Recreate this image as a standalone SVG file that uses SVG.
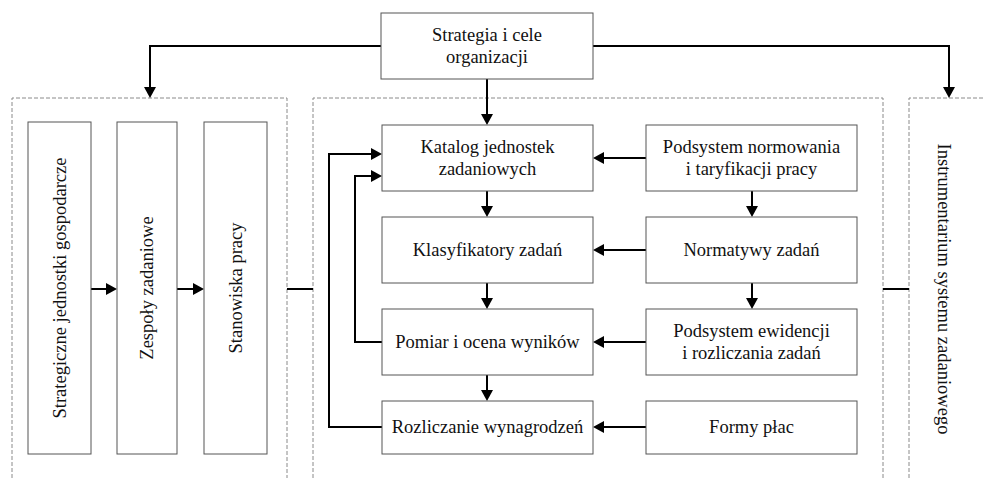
<svg xmlns="http://www.w3.org/2000/svg" width="983" height="478" viewBox="0 0 983 478">
<style>
  .box { fill: #fff; stroke: #555; stroke-width: 1; }
  .panel { fill: none; stroke: #8a8a8a; stroke-width: 1; stroke-dasharray: 4 2; }
  text { font-family: 'Liberation Serif', 'DejaVu Serif', serif; font-size: 18.5px; fill: #111; text-anchor: middle; }
  .c { fill: none; stroke: #000; stroke-width: 2; }
  .a { marker-end: url(#arr); }
</style>
<defs>
  <marker id="arr" markerUnits="userSpaceOnUse" markerWidth="12" markerHeight="12" refX="3" refY="6" orient="auto">
    <path d="M0,0 L11,6 L0,12 z" fill="#000"/>
  </marker>
</defs>
<rect width="983" height="478" fill="#fff"/>

<g id="panels">
  <path class="panel" d="M12,478 V98 H287 V478"/>
  <path class="panel" d="M313,478 V98 H883 V478"/>
  <path class="panel" d="M909,478 V98 H983"/>
</g>

<g id="connectors">
  <path class="c a" d="M381,46 H150 V90"/>
  <path class="c a" d="M593,46 H949 V90"/>
  <path class="c a" d="M487,79 V117"/>
  <path class="c a" d="M91,289 H109"/>
  <path class="c a" d="M177,289 H196"/>
  <path class="c" d="M287,289 H313"/>
  <path class="c" d="M883,289 H909"/>
  <path class="c a" d="M487,191 V209"/>
  <path class="c a" d="M487,283 V301"/>
  <path class="c a" d="M487,375 V393"/>
  <path class="c a" d="M752,191 V209"/>
  <path class="c a" d="M752,283 V301"/>
  <path class="c a" d="M646,158 H601"/>
  <path class="c a" d="M646,250 H601"/>
  <path class="c a" d="M646,342 H601"/>
  <path class="c a" d="M646,427 H601"/>
  <path class="c a" d="M382,427 H329 V154 H374"/>
  <path class="c a" d="M382,342 H355 V176 H374"/>
</g>

<g id="strategia">
  <rect class="box" x="381" y="13" width="212" height="66"/>
  <text x="487" y="41" font-family="Liberation Serif, serif">Strategia i cele</text>
  <text x="487" y="63" font-family="Liberation Serif, serif">organizacji</text>
</g>

<g id="sjg">
  <rect class="box" x="28" y="122" width="63" height="332"/>
  <text transform="translate(65.5,288) rotate(-90)">Strategiczne jednostki gospodarcze</text>
</g>
<g id="zespoly">
  <rect class="box" x="117" y="122" width="60" height="332"/>
  <text transform="translate(153,288) rotate(-90)">Zespoły zadaniowe</text>
</g>
<g id="stanowiska">
  <rect class="box" x="204" y="122" width="63" height="332"/>
  <text transform="translate(241.5,288) rotate(-90)">Stanowiska pracy</text>
</g>

<g id="katalog">
  <rect class="box" x="382" y="125" width="211" height="66"/>
  <text x="487.5" y="153">Katalog jednostek</text>
  <text x="487.5" y="175">zadaniowych</text>
</g>
<g id="klasyfikatory">
  <rect class="box" x="382" y="217" width="211" height="66"/>
  <text x="487.5" y="256">Klasyfikatory zadań</text>
</g>
<g id="pomiar">
  <rect class="box" x="382" y="309" width="211" height="66"/>
  <text x="487.5" y="348">Pomiar i ocena wyników</text>
</g>
<g id="rozliczanie">
  <rect class="box" x="382" y="401" width="211" height="53"/>
  <text x="487.5" y="433">Rozliczanie wynagrodzeń</text>
</g>

<g id="normowanie">
  <rect class="box" x="646" y="125" width="211" height="66"/>
  <text x="751.5" y="153">Podsystem normowania</text>
  <text x="751.5" y="175">i taryfikacji pracy</text>
</g>
<g id="normatywy">
  <rect class="box" x="646" y="217" width="211" height="66"/>
  <text x="751.5" y="256">Normatywy zadań</text>
</g>
<g id="ewidencja">
  <rect class="box" x="646" y="309" width="211" height="66"/>
  <text x="751.5" y="337">Podsystem ewidencji</text>
  <text x="751.5" y="359">i rozliczania zadań</text>
</g>
<g id="formy">
  <rect class="box" x="646" y="401" width="211" height="53"/>
  <text x="751.5" y="433">Formy płac</text>
</g>

<g id="instrumentarium">
  <text transform="translate(937.5,289) rotate(90)">Instrumentarium systemu zadaniowego</text>
</g>
</svg>
